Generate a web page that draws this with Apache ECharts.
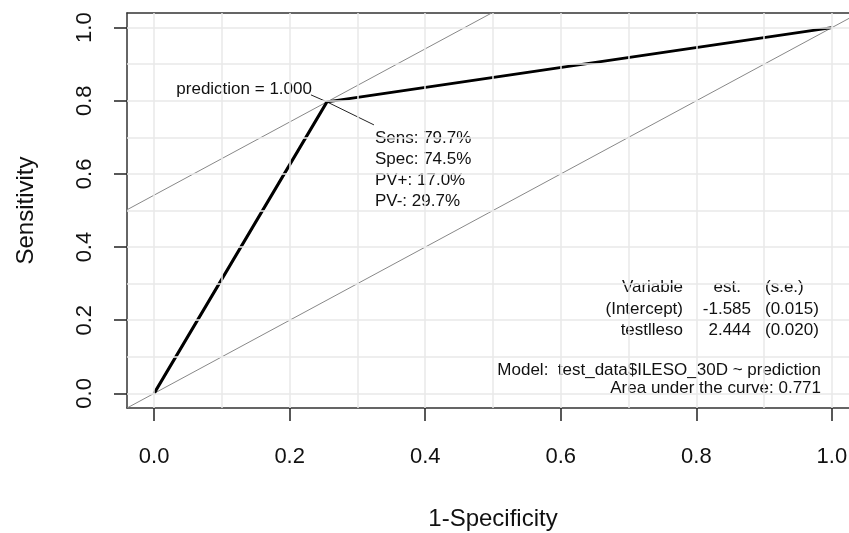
<!DOCTYPE html>
<html>
<head>
<meta charset="utf-8">
<script src="https://cdn.jsdelivr.net/npm/echarts@6/dist/echarts.min.js"></script>
<style>
  html, body { margin: 0; padding: 0; background: #fff; }
  #chart { width: 849px; height: 533px; }
</style>
</head>
<body>
<div id="chart"></div>
<script>
  // ROC points (1-Specificity, Sensitivity)
  const fpr = [0, 0.255, 1];
  const sens = [0, 0.797, 1];
  const cutIndex = 1;

  const tickValues = [0, 0.2, 0.4, 0.6, 0.8, 1.0];
  const gridValues = [0, 0.1, 0.2, 0.3, 0.4, 0.5, 0.6, 0.7, 0.8, 0.9, 1.0];

  const cutLabel = "prediction = 1.000";
  const statLines = ["Sens: 79.7%", "Spec: 74.5%", "PV+: 17.0%", "PV-: 29.7%"];
  const tableRows = [
    ["Variable", "est.", "(s.e.)"],
    ["(Intercept)", "-1.585", "(0.015)"],
    ["testlleso", "2.444", "(0.020)"],
  ];
  const modelText = "Model:  test_data$ILESO_30D ~ prediction";
  const aucText = "Area under the curve: 0.771";

  const font = "'Liberation Sans', Arial, sans-serif";
  const lo = -0.04, hi = 1.04;

  // slope-1 reference lines: the diagonal and the one through the cut point
  const offset = sens[cutIndex] - fpr[cutIndex];
  const diagLine = [[lo, lo], [hi, hi]];
  const cutLine = [[lo, lo + offset], [hi - offset, hi]];

  const boxLine = { show: true, onZero: false, lineStyle: { color: "#333", width: 1.5 } };

  const chart = echarts.init(document.getElementById("chart"));

  const option = {
    animation: false,
    grid: {
      left: 127,
      top: 13,
      width: 732,
      height: 395,
      show: false,
      outerBoundsMode: "none",
    },
    xAxis: [
      {
        type: "value",
        min: lo,
        max: hi,
        name: "1-Specificity",
        nameLocation: "middle",
        nameGap: 99,
        nameTextStyle: { fontSize: 24, color: "#111", fontFamily: font },
        axisLine: boxLine,
        splitLine: { show: false },
        axisTick: {
          show: true,
          customValues: tickValues,
          length: 13,
          lineStyle: { color: "#222", width: 1.5 },
        },
        axisLabel: {
          customValues: tickValues,
          margin: 38,
          fontSize: 22,
          color: "#111",
          fontFamily: font,
          formatter: (v) => v.toFixed(1),
        },
      },
      {
        type: "value",
        position: "top",
        min: lo,
        max: hi,
        axisLine: boxLine,
        axisTick: { show: false },
        axisLabel: { show: false },
        splitLine: { show: false },
      },
    ],
    yAxis: {
      type: "value",
      min: lo,
      max: hi,
      name: "Sensitivity",
      nameLocation: "middle",
      nameGap: 89,
      nameTextStyle: { fontSize: 24, color: "#111", fontFamily: font },
      axisLine: boxLine,
      splitLine: { show: false },
      axisTick: {
        show: true,
        customValues: tickValues,
        length: 13,
        lineStyle: { color: "#222", width: 1.5 },
      },
      axisLabel: {
        customValues: tickValues,
        rotate: 90,
        margin: 31,
        fontSize: 22,
        color: "#111",
        fontFamily: font,
        formatter: (v) => v.toFixed(1),
      },
    },
    series: [
      {
        type: "line",
        data: [],
        silent: true,
        markLine: {
          silent: true,
          symbol: "none",
          label: { show: false },
          lineStyle: { color: "#e8e8e8", width: 1.5, type: "solid" },
          data: gridValues
            .map((v) => ({ xAxis: v }))
            .concat(gridValues.map((v) => ({ yAxis: v }))),
        },
      },
      {
        type: "line",
        data: diagLine,
        symbol: "none",
        silent: true,
        lineStyle: { color: "#888", width: 1 },
      },
      {
        type: "line",
        data: cutLine,
        symbol: "none",
        silent: true,
        lineStyle: { color: "#888", width: 1 },
      },
      {
        type: "line",
        data: fpr.map((x, i) => [x, sens[i]]),
        symbol: "none",
        silent: true,
        lineStyle: { color: "#000", width: 3 },
      },
    ],
  };
  chart.setOption(option);

  // annotations placed relative to the cut point
  const p = chart.convertToPixel({ gridIndex: 0 }, [fpr[cutIndex], sens[cutIndex]]);
  const txt = (text, x, y, align) => ({
    type: "text",
    x: x,
    y: y,
    silent: true,
    style: {
      text: text,
      fill: "#111",
      font: "17px " + font,
      textAlign: align,
      textVerticalAlign: "middle",
    },
  });
  const seg = (x1, y1, x2, y2) => ({
    type: "line",
    silent: true,
    shape: { x1: x1, y1: y1, x2: x2, y2: y2 },
    style: { stroke: "#222", lineWidth: 1 },
  });

  const graphics = [];
  graphics.push(txt(cutLabel, p[0] - 15, p[1] - 13, "right"));
  graphics.push(seg(p[0] - 16, p[1] - 7, p[0], p[1]));
  graphics.push(seg(p[0], p[1], p[0] + 47, p[1] + 23));
  statLines.forEach((s, i) => {
    graphics.push(txt(s, p[0] + 48, p[1] + 36 + i * 21, "left"));
  });

  const rowY = [287, 309, 330];
  tableRows.forEach((r, i) => {
    graphics.push(txt(r[0], 683, rowY[i], "right"));
    graphics.push(txt(r[1], i === 0 ? 741 : 751, rowY[i], "right"));
    graphics.push(txt(r[2], 765, rowY[i], "left"));
  });
  graphics.push(txt(modelText, 821, 370, "right"));
  graphics.push(txt(aucText, 821, 388, "right"));

  chart.setOption({ graphic: graphics });
</script>
</body>
</html>
